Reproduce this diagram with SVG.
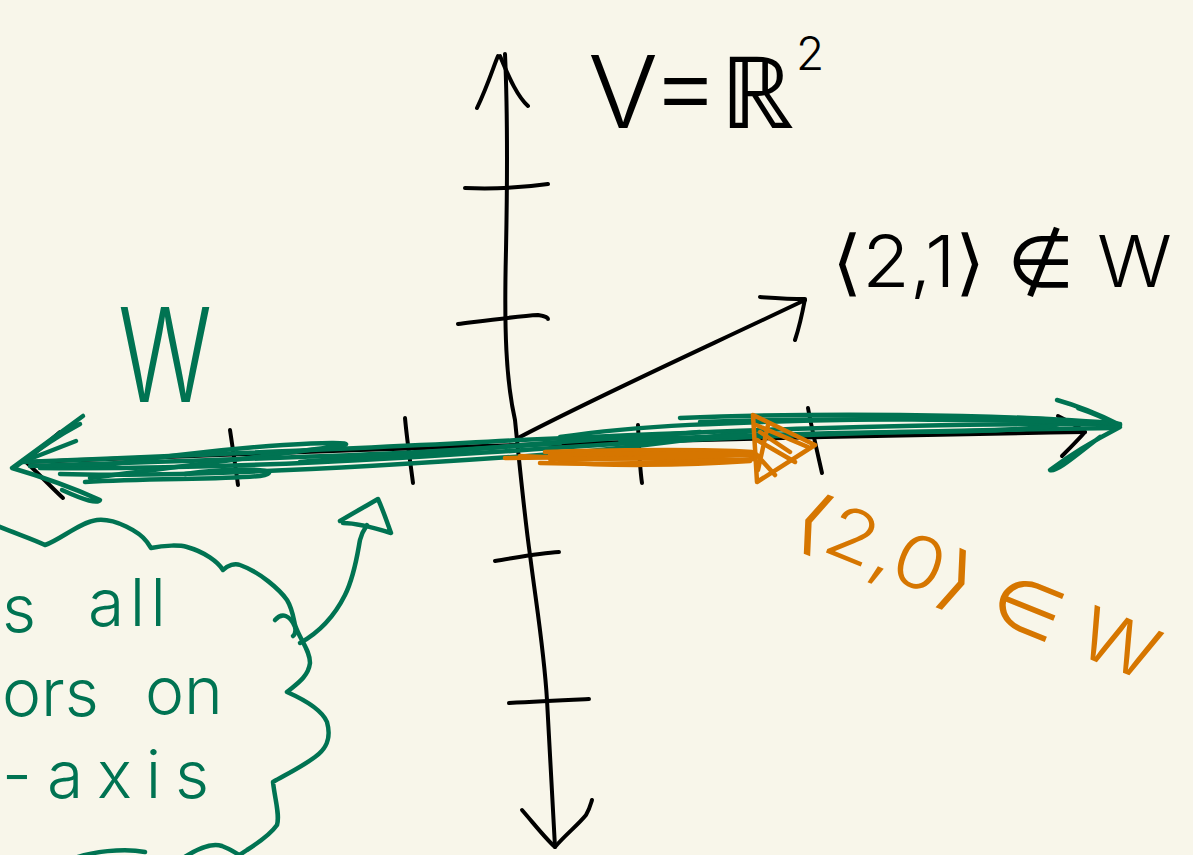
<svg xmlns="http://www.w3.org/2000/svg" width="1193" height="855" viewBox="0 0 1193 855">
<style>
.k{stroke:#000;stroke-width:4;fill:none;stroke-linecap:round;stroke-linejoin:round}
.g{stroke:#007352;stroke-width:4.5;fill:none;stroke-linecap:round;stroke-linejoin:round}
.o{stroke:#d67600;stroke-width:4.5;fill:none;stroke-linecap:round;stroke-linejoin:round}
.t{font-family:Inter,"DejaVu Sans","Noto Sans",sans-serif;font-weight:300}
</style>
<rect width="1193" height="855" fill="#f8f6ea"/>

<g id="axes">
  <path class="k" d="M505,54 C508,120 507,200 506,250 C504,330 506,380 515,420 C520,470 525,520 530,555 C537,610 544,650 547,700 C550,760 553,810 555,847"/>
  <path class="k" d="M477,108 C488,85 494,65 498,56 M500,56 C510,80 518,97 528,106"/>
  <path class="k" d="M522,810 C535,825 545,838 555,847 C565,835 578,825 586,815 C590,808 591,803 592,800"/>
  <path class="k" d="M465,188 C490,189 520,188 548,184"/>
  <path class="k" d="M458,324 C490,320 520,316 538,315 C545,316 548,318 548,319"/>
  <path class="k" d="M495,561 C520,557 540,553 559,552"/>
  <path class="k" d="M509,703 C540,701 565,700 589,699"/>
  <path class="k" d="M25,462 C300,452 600,440 1085,432"/>
  <path class="k" d="M60,432 C45,445 32,455 25,461 C40,475 52,488 63,498"/>
  <path class="k" d="M1058,416 C1070,422 1080,428 1085,432 C1078,440 1070,448 1062,456"/>
  <path class="k" d="M230,430 C233,450 236,470 238,485"/>
  <path class="k" d="M405,418 C407,440 410,460 413,483"/>
  <path class="k" d="M638,425 C639,450 640,470 642,483"/>
  <path class="k" d="M808,408 C812,430 818,455 822,473"/>
</g>

<g id="v-label">
  <text class="t" x="588" y="128" font-size="100" textLength="206" lengthAdjust="spacingAndGlyphs">V=ℝ</text>
  <text class="t" x="796" y="70" font-size="46">2</text>
</g>

<g id="vec21">
  <path class="k" d="M518,438 C600,395 700,350 805,300"/>
  <path class="k" d="M760,297 C775,298 792,299 805,299 C802,315 799,328 795,340"/>
  <text class="t" x="832" y="287" font-size="72" textLength="340" lengthAdjust="spacingAndGlyphs">⟨2,1⟩ ∉ W</text>
</g>

<g id="W-line">
  <path class="g" d="M22,462 C200,455 400,447 520,440 C700,432 900,423 1118,424"/>
  <path class="g" d="M40,468 C250,470 450,455 600,445 C750,435 950,430 1115,428"/>
  <path class="g" d="M90,478 C150,470 300,452 345,445 C358,440 250,443 100,466"/>
  <path class="g" d="M60,474 C200,478 400,465 540,455 C620,450 700,438 760,430"/>
  <path class="g" d="M560,437 C620,428 700,420 1000,418 C1100,418 1080,432 900,432 C800,433 700,437 620,440"/>
  <path class="g" d="M680,418 C800,413 1000,413 1120,424"/>
  <path class="g" d="M185,474 C240,466 290,470 260,476 C220,480 150,478 85,482"/>
  <path class="g" d="M300,462 C380,455 450,452 500,447 C560,441 640,437 700,432"/>
  <path class="g" d="M30,466 C150,462 300,458 420,452 C480,449 520,446 560,443"/>
  <path class="g" d="M700,422 C850,417 950,420 1110,422"/>
  <path class="g" d="M12,468 L83,416 M18,465 Q50,440 80,424 M22,462 L76,441 M12,468 Q60,482 100,500 Q97,506 62,490"/>
  <path class="g" d="M1120,425 C1100,415 1075,405 1057,400 M1120,426 C1105,418 1090,412 1078,408 M1120,427 C1095,440 1070,455 1050,470 C1055,474 1080,452 1100,437"/>
</g>

<g id="W-label">
  <text class="t" x="118" y="402" font-size="130" fill="#007352" textLength="94" lengthAdjust="spacingAndGlyphs">W</text>
</g>

<g id="vec20">
  <path class="o" d="M505,458 L755,455"/>
  <path class="o" d="M540,463 C620,465 700,462 755,459"/>
  <path class="o" d="M545,452 C620,450 700,449 752,452"/>
  <path class="o" d="M520,456 C600,460 680,457 750,461 C680,466 600,466 560,462"/>
  <path class="o" d="M550,455 C620,453 690,453 755,454 C690,458 620,459 550,459"/>
  <path class="o" d="M753,415 L757,482 L815,445 Z"/>
  <path class="o" d="M756,425 L808,447 M757,440 L795,462 M757,455 L775,475 M760,432 L790,452 M758,470 L768,425"/>
  <text class="t" transform="translate(790,538) rotate(22)" font-size="72" fill="#d67600" textLength="385" lengthAdjust="spacingAndGlyphs">⟨2,0⟩ ∈ W</text>
</g>

<g id="cloud">
  <path class="g" d="M-5,525 C20,535 35,540 45,545 C60,540 80,522 97,520 C115,518 140,532 147,542 L151,548 C165,545 180,545 187,547 C205,552 218,562 223,570 C228,565 235,563 240,565 C260,572 280,590 287,600 C292,608 293,615 295,625 C300,640 310,650 310,663 C308,678 295,685 287,692 C305,700 322,710 327,722 C332,740 325,750 315,757 C300,768 285,775 273,782 C275,800 280,815 277,825 C270,835 258,843 247,850 C240,855 235,857 230,860"/>
  <path class="g" d="M70,860 C90,851 125,848 145,852 M180,860 C195,850 210,842 222,846 C232,850 240,855 245,860"/>
  <text class="t" font-size="66" fill="#007352"><tspan x="2" y="632">s</tspan><tspan x="88" y="626" textLength="78" lengthAdjust="spacing">all</tspan></text>
  <text class="t" font-size="66" fill="#007352"><tspan x="2" y="716">ors</tspan><tspan x="145" y="714">on</tspan></text>
  <text class="t" font-size="66" fill="#007352"><tspan x="2" y="798">-</tspan><tspan x="47" y="798" textLength="162" lengthAdjust="spacing">axis</tspan></text>
</g>

<g id="pointer">
  <path class="g" d="M275,620 C282,612 290,615 295,627 C297,633 293,636 293,636 M300,643 C320,632 335,615 345,595 C355,575 358,550 360,540 C362,532 365,528 367,525"/>
  <path class="g" d="M340,521 C355,512 368,505 378,499 C383,510 387,522 391,533 C375,528 358,523 343,523"/>
</g>
</svg>
